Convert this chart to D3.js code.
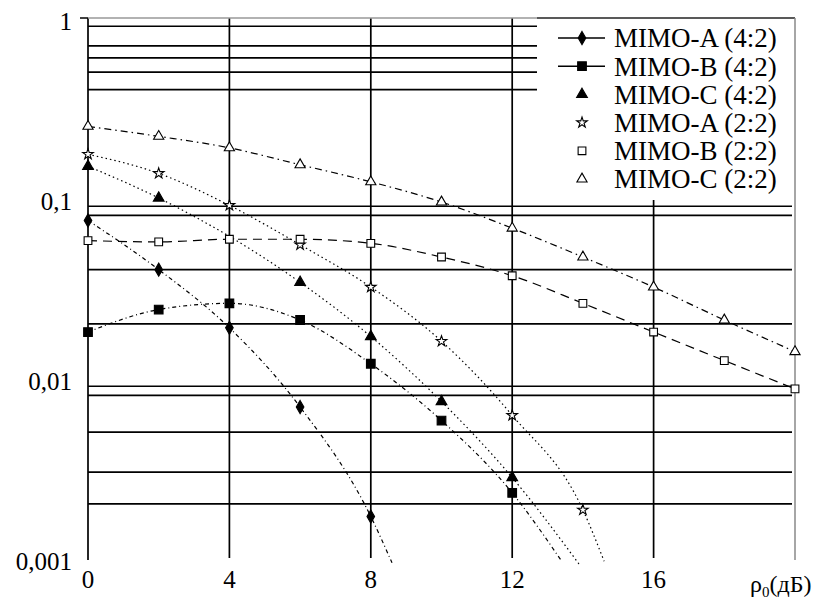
<!DOCTYPE html>
<html>
<head>
<meta charset="utf-8">
<script src="https://cdn.jsdelivr.net/npm/d3@7"></script>
<style>
  html, body { margin: 0; padding: 0; background: #fff; }
  svg { display: block; }
  svg text { font-family: "Liberation Serif", "DejaVu Serif", serif; }
</style>
</head>
<body>
<svg id="chart" width="827" height="599" font-family="'Liberation Serif', 'DejaVu Serif', serif"></svg>
<script>
// ---- Data ----
const seriesNames = ["MIMO-A (4:2)", "MIMO-B (4:2)", "MIMO-C (4:2)", "MIMO-A (2:2)", "MIMO-B (2:2)", "MIMO-C (2:2)"];

const xA42 = [0, 2, 4, 6, 8];
const yA42 = [0.075, 0.040, 0.019, 0.0069, 0.0017];
const tailA42 = [8.6, 0.00094];

const xB42 = [0, 2, 4, 6, 8, 10, 12];
const yB42 = [0.018, 0.024, 0.026, 0.021, 0.012, 0.0058, 0.0023];
const tailB42 = [13.4, 0.00096];

const xC42 = [0, 2, 6, 8, 10, 12];
const yC42 = [0.15, 0.10, 0.034, 0.017, 0.0074, 0.0028];
const tailC42 = [13.9, 0.00092];

const xA22 = [0, 2, 4, 6, 8, 10, 12, 14];
const yA22 = [0.175, 0.137, 0.091, 0.055, 0.032, 0.016, 0.0062, 0.00185];
const tailA22 = [14.6, 0.00096];

const xB22 = [0, 2, 4, 6, 8, 10, 12, 14, 16, 18, 20];
const yB22 = [0.058, 0.057, 0.059, 0.059, 0.056, 0.047, 0.037, 0.026, 0.018, 0.0125, 0.0087];

const xC22 = [0, 2, 4, 6, 8, 10, 12, 14, 16, 18, 20];
const yC22 = [0.25, 0.22, 0.19, 0.153, 0.123, 0.095, 0.068, 0.047, 0.032, 0.021, 0.014];

const xTicks = [0, 4, 8, 12, 16];
const xTickLabels = ["0", "4", "8", "12", "16"];
const yTicks = [1, 0.1, 0.01, 0.001];
const yTickLabels = ["1", "0,1", "0,01", "0,001"];
const gridTop = [0.9, 0.7, 0.6, 0.5, 0.4];
const gridLow = [0.09, 0.08, 0.04, 0.02, 0.009, 0.008, 0.005, 0.003, 0.002];

// ---- Layout ----
const svg = d3.select("#chart");
const x = d3.scaleLinear().domain([0, 20]).range([88, 795]);
const y = d3.scaleLog().domain([0.001, 1]).range([558, 18]);
const legendLeft = 537, legendBottom = 200;
const gridW = 1.7;

// horizontal grid lines
svg.append("g").selectAll("line").data(gridTop).join("line")
  .attr("x1", x(0)).attr("x2", legendLeft)
  .attr("y1", d => y(d)).attr("y2", d => y(d))
  .attr("stroke", "#000").attr("stroke-width", gridW);
svg.append("g").selectAll("line").data(gridLow).join("line")
  .attr("x1", x(0)).attr("x2", x(20) - 3)
  .attr("y1", d => y(d)).attr("y2", d => y(d))
  .attr("stroke", "#000").attr("stroke-width", gridW);

// vertical grid lines
svg.append("g").selectAll("line").data([4, 8, 12]).join("line")
  .attr("x1", d => x(d)).attr("x2", d => x(d))
  .attr("y1", y(1)).attr("y2", y(0.001))
  .attr("stroke", "#000").attr("stroke-width", gridW);
svg.append("line")
  .attr("x1", x(16)).attr("x2", x(16))
  .attr("y1", legendBottom).attr("y2", y(0.001))
  .attr("stroke", "#000").attr("stroke-width", gridW);

// frame
svg.append("line").attr("x1", x(0)).attr("x2", x(0)).attr("y1", y(1)).attr("y2", y(0.001) + 2)
  .attr("stroke", "#000").attr("stroke-width", gridW);
svg.append("line").attr("x1", x(0) - 8).attr("x2", x(0)).attr("y1", y(1)).attr("y2", y(1))
  .attr("stroke", "#000").attr("stroke-width", 1.5);
svg.append("line").attr("x1", x(0)).attr("x2", legendLeft).attr("y1", y(1)).attr("y2", y(1))
  .attr("stroke", "#999").attr("stroke-width", 1.4);
svg.append("line").attr("x1", legendLeft).attr("x2", x(20)).attr("y1", y(1)).attr("y2", y(1))
  .attr("stroke", "#222").attr("stroke-width", 1.5);
svg.append("line").attr("x1", x(20)).attr("x2", x(20)).attr("y1", y(1)).attr("y2", y(0.001) + 2)
  .attr("stroke", "#888").attr("stroke-width", 1.5);

// ---- Series ----
const line = d3.line().x(d => x(d[0])).y(d => y(d[1])).curve(d3.curveMonotoneX);

const series = [
  { xs: xA42, ys: yA42, tail: tailA42, sym: d3.symbolDiamond, size: 50, fill: "#000", dash: "4,3,1,3" },
  { xs: xB42, ys: yB42, tail: tailB42, sym: d3.symbolSquare, size: 75, fill: "#000", dash: "4,3,1,3" },
  { xs: xC42, ys: yC42, tail: tailC42, sym: d3.symbolTriangle, size: 50, fill: "#000", dash: "1.5,3" },
  { xs: xA22, ys: yA22, tail: tailA22, sym: d3.symbolStar, size: 35, fill: "none", dash: "1.5,3" },
  { xs: xB22, ys: yB22, tail: null, sym: d3.symbolSquare, size: 60, fill: "none", dash: "9,6" },
  { xs: xC22, ys: yC22, tail: null, sym: d3.symbolTriangle, size: 45, fill: "none", dash: "7,4,1.5,4" }
];

const gSeries = svg.append("g");
series.forEach(s => {
  const pts = s.xs.map((v, i) => [v, s.ys[i]]);
  const linePts = s.tail ? pts.concat([s.tail]) : pts;
  gSeries.append("path").attr("d", line(linePts))
    .attr("fill", "none").attr("stroke", "#000").attr("stroke-width", 1.2)
    .attr("stroke-dasharray", s.dash);
  gSeries.append("g").selectAll("path").data(pts).join("path")
    .attr("d", d3.symbol().type(s.sym).size(s.size))
    .attr("transform", d => `translate(${x(d[0])},${y(d[1])})`)
    .attr("fill", s.fill === "none" ? "#fff" : "#000")
    .attr("stroke", "#000").attr("stroke-width", 1.1);
});

// ---- Legend ----
const legend = svg.append("g");
legend.append("rect").attr("x", legendLeft + 1).attr("y", y(1) + 1)
  .attr("width", x(20) - legendLeft - 2).attr("height", legendBottom - y(1) - 8)
  .attr("fill", "#fff");
const legY0 = 38, legDy = 28.2, legSymX = 582, legTextX = 614;
seriesNames.forEach((name, i) => {
  const s = series[i];
  const cy = legY0 + i * legDy;
  if (i < 2) {
    legend.append("line").attr("x1", 558).attr("x2", 605).attr("y1", cy).attr("y2", cy)
      .attr("stroke", "#000").attr("stroke-width", 1.4);
  }
  legend.append("path").attr("d", d3.symbol().type(s.sym).size(s.size))
    .attr("transform", `translate(${legSymX},${cy})`)
    .attr("fill", s.fill === "none" ? "#fff" : "#000")
    .attr("stroke", "#000").attr("stroke-width", 1.1);
  legend.append("text").attr("x", legTextX).attr("y", cy).attr("dy", "0.35em")
    .attr("font-size", 27).text(name);
});

// ---- Tick labels ----
svg.append("g").selectAll("text").data(yTicks).join("text")
  .attr("x", 72).attr("y", d => y(d) + 3).attr("dy", "0.35em")
  .attr("text-anchor", "end").attr("font-size", 25)
  .text((d, i) => yTickLabels[i]);
svg.append("g").selectAll("text").data(xTicks).join("text")
  .attr("x", d => x(d)).attr("y", 579).attr("dy", "0.35em")
  .attr("text-anchor", "middle").attr("font-size", 25)
  .text((d, i) => xTickLabels[i]);

// axis title
const title = svg.append("text").attr("x", 750).attr("y", 592).attr("font-size", 24);
title.append("tspan").text("ρ");
title.append("tspan").attr("font-size", 15).attr("dy", 5).text("0");
title.append("tspan").attr("dy", -5).text("(дБ)");
</script>
</body>
</html>
